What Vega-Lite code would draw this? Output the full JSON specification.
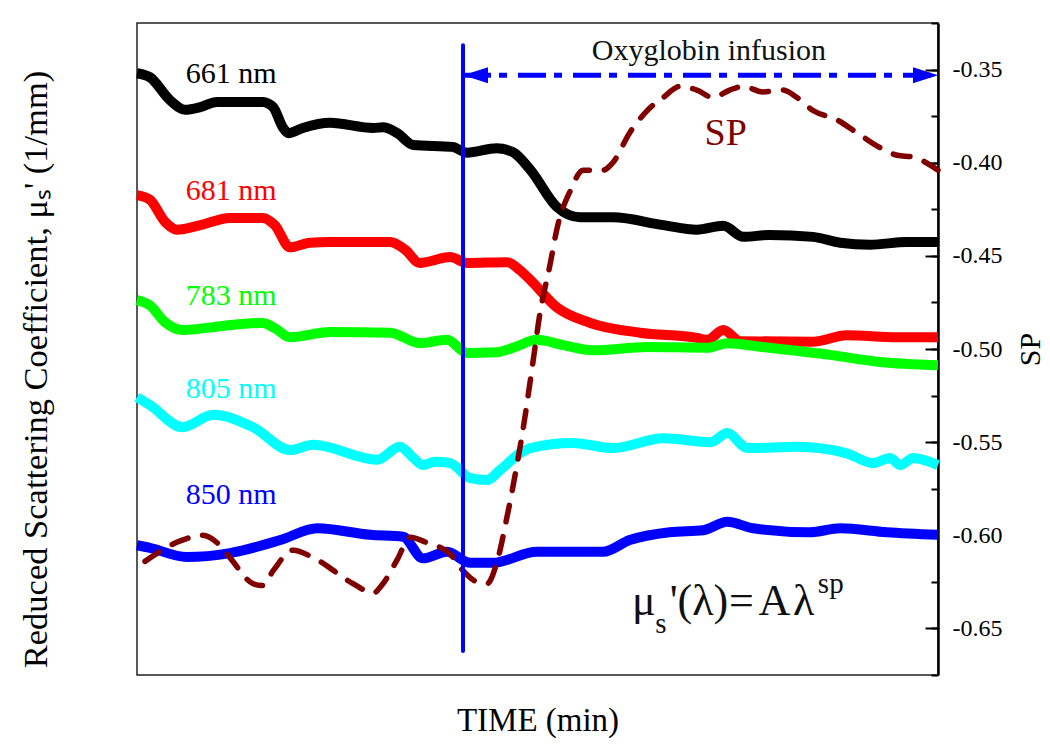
{
  "$schema": "https://vega.github.io/schema/vega-lite/v6.json",
  "width": 801,
  "height": 652,
  "autosize": {"type": "none"},
  "padding": {"left": 137, "top": 23, "right": 112, "bottom": 74},
  "background": "white",
  "config": {
    "view": {"stroke": "#222222", "strokeWidth": 1.5},
    "axis": {"grid": false, "titleFont": "Liberation Serif", "labelFont": "Liberation Serif", "titleFontWeight": "normal", "titleColor": "black", "labelColor": "black"},
    "text": {"font": "Liberation Serif"}
  },
  "datasets": {
    "mus": [
      {"s": "661 nm", "t": 0, "v": 0.923}, {"s": "661 nm", "t": 1.6, "v": 0.917}, {"s": "661 nm", "t": 4.1, "v": 0.882}, {"s": "661 nm", "t": 6.0, "v": 0.867}, {"s": "661 nm", "t": 7.9, "v": 0.871}, {"s": "661 nm", "t": 10.0, "v": 0.879}, {"s": "661 nm", "t": 15.7, "v": 0.879}, {"s": "661 nm", "t": 17.0, "v": 0.871}, {"s": "661 nm", "t": 18.2, "v": 0.840}, {"s": "661 nm", "t": 18.9, "v": 0.831}, {"s": "661 nm", "t": 20.7, "v": 0.839}, {"s": "661 nm", "t": 24.1, "v": 0.847}, {"s": "661 nm", "t": 29.5, "v": 0.839}, {"s": "661 nm", "t": 30.7, "v": 0.840}, {"s": "661 nm", "t": 32.5, "v": 0.831}, {"s": "661 nm", "t": 34.5, "v": 0.813}, {"s": "661 nm", "t": 39.4, "v": 0.810}, {"s": "661 nm", "t": 41.2, "v": 0.801}, {"s": "661 nm", "t": 44.9, "v": 0.808}, {"s": "661 nm", "t": 46.9, "v": 0.802}, {"s": "661 nm", "t": 49.1, "v": 0.775}, {"s": "661 nm", "t": 52.4, "v": 0.718}, {"s": "661 nm", "t": 55.3, "v": 0.702}, {"s": "661 nm", "t": 59.4, "v": 0.702}, {"s": "661 nm", "t": 65.7, "v": 0.690}, {"s": "661 nm", "t": 69.9, "v": 0.683}, {"s": "661 nm", "t": 73.2, "v": 0.689}, {"s": "661 nm", "t": 75.7, "v": 0.672}, {"s": "661 nm", "t": 79.0, "v": 0.675}, {"s": "661 nm", "t": 84.4, "v": 0.672}, {"s": "661 nm", "t": 87.8, "v": 0.663}, {"s": "661 nm", "t": 91.5, "v": 0.660}, {"s": "661 nm", "t": 96.1, "v": 0.664}, {"s": "661 nm", "t": 100, "v": 0.664},
      {"s": "681 nm", "t": 0, "v": 0.736}, {"s": "681 nm", "t": 1.6, "v": 0.729}, {"s": "681 nm", "t": 3.5, "v": 0.695}, {"s": "681 nm", "t": 5.0, "v": 0.683}, {"s": "681 nm", "t": 7.9, "v": 0.690}, {"s": "681 nm", "t": 11.6, "v": 0.701}, {"s": "681 nm", "t": 15.7, "v": 0.701}, {"s": "681 nm", "t": 17.2, "v": 0.690}, {"s": "681 nm", "t": 19.1, "v": 0.656}, {"s": "681 nm", "t": 21.6, "v": 0.663}, {"s": "681 nm", "t": 24.1, "v": 0.664}, {"s": "681 nm", "t": 31.6, "v": 0.664}, {"s": "681 nm", "t": 33.5, "v": 0.652}, {"s": "681 nm", "t": 35.3, "v": 0.632}, {"s": "681 nm", "t": 39.1, "v": 0.641}, {"s": "681 nm", "t": 41.2, "v": 0.632}, {"s": "681 nm", "t": 46.2, "v": 0.633}, {"s": "681 nm", "t": 47.8, "v": 0.621}, {"s": "681 nm", "t": 49.1, "v": 0.606}, {"s": "681 nm", "t": 52.4, "v": 0.564}, {"s": "681 nm", "t": 56.6, "v": 0.540}, {"s": "681 nm", "t": 62.8, "v": 0.525}, {"s": "681 nm", "t": 69.9, "v": 0.517}, {"s": "681 nm", "t": 71.2, "v": 0.514}, {"s": "681 nm", "t": 73.2, "v": 0.529}, {"s": "681 nm", "t": 75.3, "v": 0.512}, {"s": "681 nm", "t": 84.4, "v": 0.511}, {"s": "681 nm", "t": 88.6, "v": 0.521}, {"s": "681 nm", "t": 94.9, "v": 0.518}, {"s": "681 nm", "t": 100, "v": 0.518},
      {"s": "783 nm", "t": 0, "v": 0.575}, {"s": "783 nm", "t": 1.6, "v": 0.567}, {"s": "783 nm", "t": 3.5, "v": 0.541}, {"s": "783 nm", "t": 5.7, "v": 0.529}, {"s": "783 nm", "t": 10.4, "v": 0.535}, {"s": "783 nm", "t": 15.7, "v": 0.540}, {"s": "783 nm", "t": 17.2, "v": 0.532}, {"s": "783 nm", "t": 19.1, "v": 0.518}, {"s": "783 nm", "t": 24.1, "v": 0.526}, {"s": "783 nm", "t": 31.6, "v": 0.525}, {"s": "783 nm", "t": 35.3, "v": 0.509}, {"s": "783 nm", "t": 38.7, "v": 0.514}, {"s": "783 nm", "t": 41.2, "v": 0.494}, {"s": "783 nm", "t": 44.9, "v": 0.495}, {"s": "783 nm", "t": 47.2, "v": 0.503}, {"s": "783 nm", "t": 49.9, "v": 0.514}, {"s": "783 nm", "t": 53.2, "v": 0.506}, {"s": "783 nm", "t": 56.9, "v": 0.498}, {"s": "783 nm", "t": 63.7, "v": 0.503}, {"s": "783 nm", "t": 71.2, "v": 0.502}, {"s": "783 nm", "t": 73.7, "v": 0.509}, {"s": "783 nm", "t": 78.1, "v": 0.503}, {"s": "783 nm", "t": 86.5, "v": 0.491}, {"s": "783 nm", "t": 92.8, "v": 0.480}, {"s": "783 nm", "t": 100, "v": 0.475},
      {"s": "805 nm", "t": 0, "v": 0.426}, {"s": "805 nm", "t": 1.6, "v": 0.414}, {"s": "805 nm", "t": 5.7, "v": 0.380}, {"s": "805 nm", "t": 9.5, "v": 0.399}, {"s": "805 nm", "t": 14.5, "v": 0.380}, {"s": "805 nm", "t": 19.1, "v": 0.345}, {"s": "805 nm", "t": 22.0, "v": 0.353}, {"s": "805 nm", "t": 30.0, "v": 0.330}, {"s": "805 nm", "t": 32.8, "v": 0.350}, {"s": "805 nm", "t": 34.5, "v": 0.333}, {"s": "805 nm", "t": 35.7, "v": 0.322}, {"s": "805 nm", "t": 37.2, "v": 0.327}, {"s": "805 nm", "t": 39.1, "v": 0.325}, {"s": "805 nm", "t": 41.6, "v": 0.302}, {"s": "805 nm", "t": 43.7, "v": 0.299}, {"s": "805 nm", "t": 45.3, "v": 0.314}, {"s": "805 nm", "t": 47.8, "v": 0.340}, {"s": "805 nm", "t": 49.1, "v": 0.348}, {"s": "805 nm", "t": 54.4, "v": 0.356}, {"s": "805 nm", "t": 59.4, "v": 0.348}, {"s": "805 nm", "t": 65.7, "v": 0.363}, {"s": "805 nm", "t": 71.6, "v": 0.357}, {"s": "805 nm", "t": 73.7, "v": 0.371}, {"s": "805 nm", "t": 76.2, "v": 0.348}, {"s": "805 nm", "t": 82.4, "v": 0.350}, {"s": "805 nm", "t": 88.6, "v": 0.340}, {"s": "805 nm", "t": 91.9, "v": 0.325}, {"s": "805 nm", "t": 94.0, "v": 0.333}, {"s": "805 nm", "t": 95.3, "v": 0.322}, {"s": "805 nm", "t": 96.9, "v": 0.333}, {"s": "805 nm", "t": 100, "v": 0.322},
      {"s": "850 nm", "t": 0, "v": 0.199}, {"s": "850 nm", "t": 1.6, "v": 0.195}, {"s": "850 nm", "t": 6.2, "v": 0.181}, {"s": "850 nm", "t": 11.6, "v": 0.187}, {"s": "850 nm", "t": 17.9, "v": 0.207}, {"s": "850 nm", "t": 22.5, "v": 0.225}, {"s": "850 nm", "t": 29.1, "v": 0.215}, {"s": "850 nm", "t": 33.2, "v": 0.212}, {"s": "850 nm", "t": 35.7, "v": 0.179}, {"s": "850 nm", "t": 38.7, "v": 0.189}, {"s": "850 nm", "t": 41.6, "v": 0.172}, {"s": "850 nm", "t": 44.4, "v": 0.172}, {"s": "850 nm", "t": 49.9, "v": 0.189}, {"s": "850 nm", "t": 58.2, "v": 0.189}, {"s": "850 nm", "t": 61.5, "v": 0.207}, {"s": "850 nm", "t": 66.5, "v": 0.219}, {"s": "850 nm", "t": 70.7, "v": 0.222}, {"s": "850 nm", "t": 73.7, "v": 0.235}, {"s": "850 nm", "t": 76.9, "v": 0.225}, {"s": "850 nm", "t": 84.0, "v": 0.219}, {"s": "850 nm", "t": 87.8, "v": 0.225}, {"s": "850 nm", "t": 93.6, "v": 0.219}, {"s": "850 nm", "t": 100, "v": 0.215}
    ],
    "sp": [
      {"t": 1.0, "sp": -0.614}, {"t": 5.4, "sp": -0.603}, {"t": 8.2, "sp": -0.600}, {"t": 10.0, "sp": -0.604}, {"t": 11.6, "sp": -0.612}, {"t": 14.5, "sp": -0.626}, {"t": 15.7, "sp": -0.627}, {"t": 17.0, "sp": -0.619}, {"t": 19.5, "sp": -0.608}, {"t": 22.0, "sp": -0.612}, {"t": 27.0, "sp": -0.626}, {"t": 29.5, "sp": -0.631}, {"t": 30.7, "sp": -0.626}, {"t": 32.5, "sp": -0.613}, {"t": 34.1, "sp": -0.601}, {"t": 36.2, "sp": -0.604}, {"t": 39.1, "sp": -0.610}, {"t": 40.7, "sp": -0.619}, {"t": 42.4, "sp": -0.625}, {"t": 43.7, "sp": -0.626}, {"t": 44.9, "sp": -0.615}, {"t": 46.2, "sp": -0.590}, {"t": 47.4, "sp": -0.563}, {"t": 48.2, "sp": -0.543}, {"t": 49.4, "sp": -0.508}, {"t": 50.3, "sp": -0.481}, {"t": 51.6, "sp": -0.454}, {"t": 52.4, "sp": -0.436}, {"t": 54.1, "sp": -0.415}, {"t": 55.7, "sp": -0.404}, {"t": 58.2, "sp": -0.404}, {"t": 59.4, "sp": -0.400}, {"t": 61.5, "sp": -0.384}, {"t": 63.7, "sp": -0.372}, {"t": 65.7, "sp": -0.365}, {"t": 67.8, "sp": -0.359}, {"t": 69.9, "sp": -0.361}, {"t": 71.9, "sp": -0.365}, {"t": 74.0, "sp": -0.361}, {"t": 75.7, "sp": -0.359}, {"t": 78.1, "sp": -0.362}, {"t": 80.6, "sp": -0.361}, {"t": 82.4, "sp": -0.365}, {"t": 84.4, "sp": -0.372}, {"t": 87.4, "sp": -0.377}, {"t": 89.9, "sp": -0.384}, {"t": 92.8, "sp": -0.392}, {"t": 94.9, "sp": -0.396}, {"t": 96.9, "sp": -0.397}, {"t": 100, "sp": -0.404}
    ],
    "infusion": [{"t": 40.7, "v1": 0.037, "v2": 0.966}],
    "arrow": [{"t": 40.7, "sp": -0.353}, {"t": 99.5, "sp": -0.353}],
    "heads": [{"d": "left", "t": 40.7, "sp": -0.353}, {"d": "right", "t": 100, "sp": -0.353}],
    "labels": [
      {"s": "661 nm", "t": 6.1, "v": 0.922},
      {"s": "681 nm", "t": 6.1, "v": 0.742},
      {"s": "783 nm", "t": 6.1, "v": 0.582},
      {"s": "805 nm", "t": 6.1, "v": 0.439},
      {"s": "850 nm", "t": 6.1, "v": 0.276}
    ],
    "note": [{"k": "Oxyglobin infusion", "t": 71.4, "v": 0.957}],
    "splabel": [{"k": "SP", "t": 73.5, "v": 0.830}],
    "formulaBig": [
      {"k": "μ", "t": 61.8, "v": 0.092},
      {"k": "'(λ)", "t": 66.5, "v": 0.092},
      {"k": "=", "t": 73.9, "v": 0.092},
      {"k": "A", "t": 77.6, "v": 0.092},
      {"k": "λ", "t": 81.9, "v": 0.092}
    ],
    "formulaSmall": [
      {"k": "s", "t": 64.7, "v": 0.064},
      {"k": "sp", "t": 85.0, "v": 0.126}
    ]
  },
  "encoding": {
    "x": {
      "field": "t", "type": "quantitative",
      "scale": {"domain": [0, 100], "nice": false, "zero": false},
      "axis": {"title": "TIME (min)", "labels": false, "ticks": false, "domain": false, "grid": false, "titleFontSize": 33, "titlePadding": 29}
    }
  },
  "layer": [
    {
      "data": {"name": "mus"},
      "mark": {"type": "line", "strokeWidth": 10, "interpolate": "monotone"},
      "encoding": {
        "y": {
          "field": "v", "type": "quantitative",
          "scale": {"domain": [0, 1], "nice": false, "zero": false},
          "axis": {"orient": "left", "title": "Reduced Scattering Coefficient, μₛ' (1/mm)", "labels": false, "ticks": false, "domain": false, "grid": false, "titleFontSize": 34.5, "titlePadding": 84, "titleY": 346}
        },
        "color": {
          "field": "s", "type": "nominal",
          "scale": {"domain": ["661 nm", "681 nm", "783 nm", "805 nm", "850 nm"], "range": ["#000000", "#ff0000", "#00ff00", "#00ffff", "#0000ff"]},
          "legend": null
        }
      }
    },
    {
      "data": {"name": "sp"},
      "mark": {"type": "line", "strokeWidth": 5.5, "color": "#800000", "strokeDash": [17, 15], "strokeCap": "round", "interpolate": "monotone"},
      "encoding": {
        "y": {
          "field": "sp", "type": "quantitative",
          "scale": {"domain": [-0.675, -0.325], "nice": false, "zero": false},
          "axis": {"orient": "right", "values": [-0.35, -0.4, -0.45, -0.5, -0.55, -0.6, -0.65], "labelExpr": "'-' + format(abs(datum.value), '.2f')", "tickSize": -13, "tickWidth": 2, "tickColor": "black", "domain": true, "domainColor": "black", "domainWidth": 2.5, "labelFontSize": 24, "labelPadding": 27, "title": "SP", "titleAngle": 270, "titleBaseline": "top", "titleFontSize": 30, "titlePadding": 14, "grid": false}
        }
      }
    },
    {
      "data": {"name": "infusion"},
      "mark": {"type": "rule", "color": "#0000ff", "strokeWidth": 4, "strokeCap": "round"},
      "encoding": {
        "y": {"field": "v1", "type": "quantitative", "scale": {"domain": [0, 1], "nice": false, "zero": false}, "axis": null},
        "y2": {"field": "v2"}
      }
    },
    {
      "data": {"name": "arrow"},
      "mark": {"type": "line", "strokeWidth": 5, "color": "#0000ff", "strokeDash": [28, 8, 8, 11]},
      "encoding": {
        "y": {
          "field": "sp", "type": "quantitative",
          "scale": {"domain": [-0.675, -0.325], "nice": false, "zero": false},
          "axis": {"orient": "right", "values": [-0.675, -0.65, -0.625, -0.6, -0.575, -0.55, -0.525, -0.5, -0.475, -0.45, -0.425, -0.4, -0.375, -0.35, -0.325], "tickSize": -7, "tickWidth": 2, "tickColor": "black", "labels": false, "domain": false, "title": null, "grid": false}
        }
      }
    },
    {
      "data": {"name": "heads"},
      "mark": {"type": "point", "filled": true, "opacity": 1, "color": "#0000ff", "size": 2500, "strokeWidth": 0},
      "encoding": {
        "y": {"field": "sp", "type": "quantitative", "scale": {"domain": [-0.675, -0.325], "nice": false, "zero": false}, "axis": null},
        "shape": {"field": "d", "type": "nominal", "scale": {"domain": ["left", "right"], "range": ["M0,0L1,-0.32L1,0.32Z", "M0,0L-1,-0.32L-1,0.32Z"]}, "legend": null}
      }
    },
    {
      "data": {"name": "labels"},
      "mark": {"type": "text", "align": "left", "baseline": "middle", "fontSize": 30},
      "encoding": {
        "y": {"field": "v", "type": "quantitative", "scale": {"domain": [0, 1], "nice": false, "zero": false}, "axis": null},
        "text": {"field": "s"},
        "color": {"field": "s", "type": "nominal", "legend": null}
      }
    },
    {
      "data": {"name": "note"},
      "mark": {"type": "text", "align": "center", "baseline": "middle", "fontSize": 30, "color": "#111111"},
      "encoding": {
        "y": {"field": "v", "type": "quantitative", "scale": {"domain": [0, 1], "nice": false, "zero": false}, "axis": null},
        "text": {"field": "k"}
      }
    },
    {
      "data": {"name": "splabel"},
      "mark": {"type": "text", "align": "center", "baseline": "middle", "fontSize": 38, "color": "#800000"},
      "encoding": {
        "y": {"field": "v", "type": "quantitative", "scale": {"domain": [0, 1], "nice": false, "zero": false}, "axis": null},
        "text": {"field": "k"}
      }
    },
    {
      "data": {"name": "formulaBig"},
      "mark": {"type": "text", "align": "left", "baseline": "alphabetic", "fontSize": 44, "color": "#111111"},
      "encoding": {
        "y": {"field": "v", "type": "quantitative", "scale": {"domain": [0, 1], "nice": false, "zero": false}, "axis": null},
        "text": {"field": "k"}
      }
    },
    {
      "data": {"name": "formulaSmall"},
      "mark": {"type": "text", "align": "left", "baseline": "alphabetic", "fontSize": 29, "color": "#111111"},
      "encoding": {
        "y": {"field": "v", "type": "quantitative", "scale": {"domain": [0, 1], "nice": false, "zero": false}, "axis": null},
        "text": {"field": "k"}
      }
    }
  ],
  "resolve": {"scale": {"y": "independent"}, "axis": {"y": "independent"}}
}
